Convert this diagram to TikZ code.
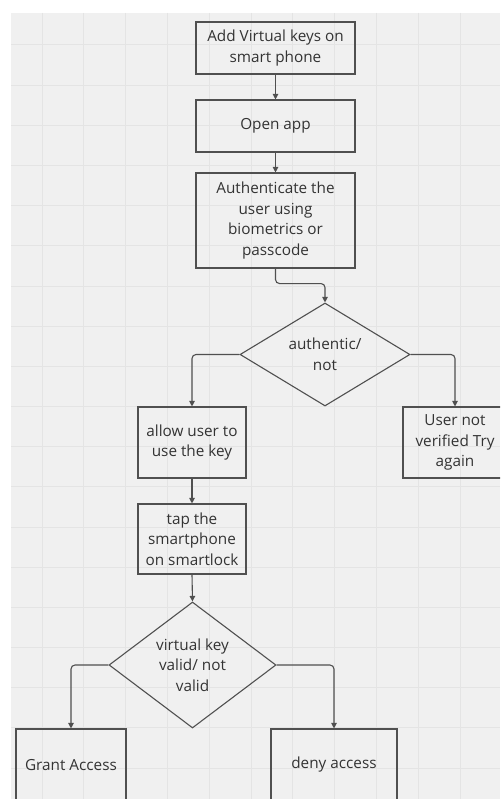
\documentclass[tikz,border=0pt]{standalone}
\usepackage{fontspec}
\setmainfont{Open Sans}
\usetikzlibrary{arrows.meta,shapes.geometric}
\definecolor{bggrey}{HTML}{F0F0F0}
\definecolor{gridgrey}{HTML}{E4E4E4}
\definecolor{linegrey}{HTML}{505050}
\definecolor{txtgrey}{HTML}{333333}
\tikzset{
  procbox/.style={draw=linegrey, line width=1.1pt, rectangle, inner sep=2pt,
    align=center, text=txtgrey, font=\fontsize{15.3}{20.5}\selectfont},
  decbox/.style={draw=linegrey, line width=1.1pt, diamond, inner sep=0pt,
    align=center, text=txtgrey, font=\fontsize{15.3}{20.5}\selectfont},
  flow/.style={draw=linegrey, line width=1.1pt, rounded corners=4pt,
    -{Triangle[length=5.5pt,width=5.5pt]}},
}
\begin{document}
\begin{tikzpicture}[x=1pt,y=-1pt]
\useasboundingbox (0,0) rectangle (500,799);
\fill[white] (0,0) rectangle (500,799);
\fill[bggrey] (11,13) rectangle (500,799);
\begin{scope}
\clip (11,13) rectangle (500,799);
\foreach \i in {0,...,11} {
  \draw[gridgrey, line width=1pt] (42+41.8*\i,13) -- (42+41.8*\i,799);
}
\foreach \j in {0,...,18} {
  \draw[gridgrey, line width=1pt] (11,45+40.17*\j) -- (500,45+40.17*\j);
}
\end{scope}
\begin{scope}
\clip (0,0) rectangle (500,799);
\node[procbox, minimum width=159pt, minimum height=52pt] (b1) at (275.5,48) {Add Virtual keys on\\smart phone};
\node[procbox, minimum width=159pt, minimum height=52pt] (b2) at (275.5,126) {Open app};
\node[procbox, minimum width=159pt, minimum height=95pt] (b3) at (275.5,220.5) {Authenticate the\\user using\\biometrics or\\passcode};
\node[decbox, minimum width=170pt, minimum height=103pt, shape aspect=1.65] (d1) at (325,354.5) {authentic/\\not};
\node[procbox, minimum width=108pt, minimum height=71pt] (a1) at (192,442.5) {allow user to\\use the key};
\node[procbox, minimum width=104pt, minimum height=71pt] (u1) at (455,442.5) {User not\\verified Try\\again};
\node[procbox, minimum width=108pt, minimum height=70pt] (t1) at (192,539) {tap the\\smartphone\\on smartlock};
\node[decbox, minimum width=167pt, minimum height=126pt, shape aspect=1.33] (d2) at (192.5,665) {virtual key\\valid/ not\\valid};
\node[procbox, minimum width=110pt, minimum height=72pt] (g1) at (71,765) {Grant Access};
\node[procbox, minimum width=126pt, minimum height=72pt] (n1) at (334,765) {deny access};

\draw[flow] (b1) -- (b2);
\draw[flow] (b2) -- (b3);
\draw[flow] (b3.south) -- ++(0,15) -| (d1.north);
\draw[flow] (d1.west) -| (a1.north);
\draw[flow] (d1.east) -| (u1.north);
\draw[flow] (a1) -- (t1);
\draw[flow] (t1.south) -- (d2.north);
\draw[flow] (d2.west) -| (g1.north);
\draw[flow] (d2.east) -| (n1.north);
\end{scope}
\end{tikzpicture}
\end{document}
